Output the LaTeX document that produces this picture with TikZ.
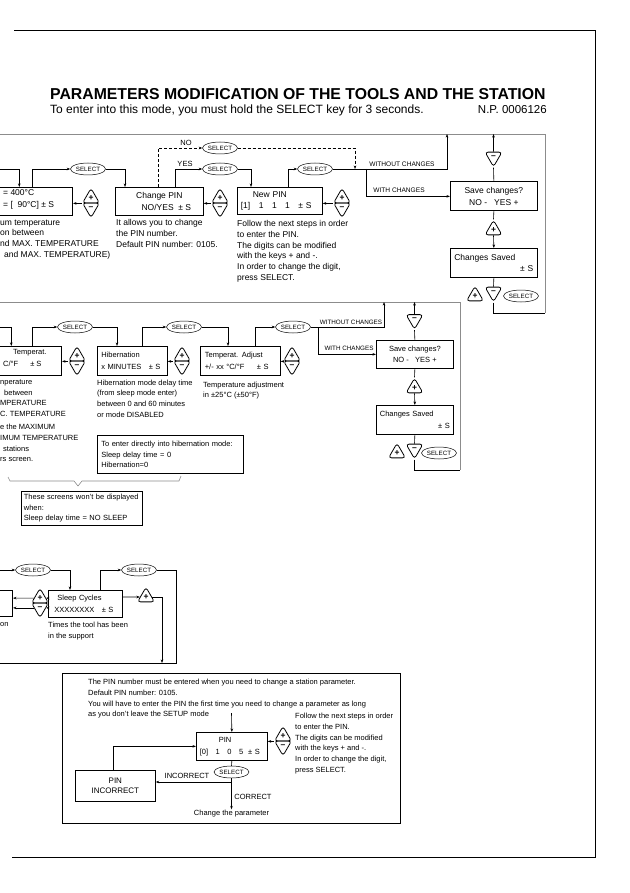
\documentclass[tikz,border=0pt]{standalone}
\usepackage{fontspec}
\setmainfont{Liberation Sans}
\usetikzlibrary{shapes.geometric,arrows.meta,positioning}
\hyphenpenalty=10000
\exhyphenpenalty=10000

\tikzset{
  box/.style={draw,line width=0.7pt,inner sep=3pt},
  txt/.style={inner sep=0pt,anchor=north west,align=left},
  big/.style={font=\fontsize{8.5}{10.7}\selectfont},
  sel/.style={ellipse,draw,line width=0.5pt,inner sep=0.3pt,minimum height=12pt,font=\fontsize{6.2}{7}\selectfont},
  kup/.style={regular polygon,regular polygon sides=3,draw,line width=0.8pt,rounded corners=3pt,minimum size=19.5pt,inner sep=0pt,font=\fontsize{8.5}{8}\bfseries\selectfont},
  kdown/.style={kup,shape border rotate=180},
  flow/.style={line width=0.6pt,-{Stealth[length=3.5pt,width=2.6pt]}},
  wire/.style={line width=0.6pt},
  back/.style={line width=0.8pt,black!45},
  lbl/.style={inner sep=0pt,font=\fontsize{6.6}{8}\selectfont}
}

\begin{document}
\begin{tikzpicture}[x=1pt,y=-1pt,font=\fontsize{7.5}{10.7}\selectfont]
  \useasboundingbox (0,0) rectangle (629,893);
  \clip (0,0) rectangle (629,893);

  % Page frame and heading
  \draw[line width=0.9pt] (14,30) -- (595,30) -- (595,857) -- (12,857);
  \node[anchor=west,inner sep=0pt,font=\fontsize{15.8}{18}\bfseries\selectfont] (title) at (50,94) {PARAMETERS MODIFICATION OF THE TOOLS AND THE STATION};
  \node[anchor=west,inner sep=0pt,font=\fontsize{12}{14}\selectfont] (intro) at (50,110) {To enter into this mode, you must hold the SELECT key for 3 seconds.};
  \node[anchor=east,inner sep=0pt,font=\fontsize{11.5}{14}\selectfont] (np) at (547,110) {N.P. 0006126};

  % ---- Tool screens
  \draw[back] (0,134) -- (545,134) -- (545,313);
  \node[box,anchor=north east,minimum width=110pt,minimum height=28pt] (tmax) at (73,187) {};
  \node[txt,big] (tmaxt) at (3,189.5) {= 400°C\\[1.2pt]= [\ \ 90°C]\ ± S};
  \node[box,big,anchor=north west,minimum width=88pt,minimum height=28pt,align=center] (cpin) at (115,187) {Change PIN\\[1pt]\hspace*{14pt}NO/YES\ \ ± S};
  \node[box,big,anchor=north west,minimum width=85pt,minimum height=27pt,align=left,text width=78pt] (npin) at (237,187) {\hspace*{12pt}New PIN\\[1pt][1]\ \ \ 1\ \ \ 1\ \ \ 1\ \ \ ± S};
  \node[box,big,anchor=north west,minimum width=87pt,minimum height=29pt,align=center] (save1) at (450,181.5) {Save changes?\\[1pt]NO -\ \ \ YES +};
  \node[box,big,anchor=north west,minimum width=87pt,minimum height=29pt,align=left,text width=79pt] (saved1) at (450,248) {Changes Saved\\[1pt]\hspace*{\fill}± S};

  \foreach \n/\x/\y in {ka/91/203,kb/220/203,kc/342/203}{
    \node[kup] (\n-p) at (\x,\y-4.9) {+};
    \node[kdown] (\n-m) at (\x,\y+4.9) {–};
  }
  \draw[flow] (ka-p.corner 2) -- (tmax.east |- ka-p.corner 2);
  \draw[flow] (kb-p.corner 2) -- (cpin.east |- kb-p.corner 2);
  \draw[flow] (kc-p.corner 2) -- (npin.east |- kc-p.corner 2);

  \node[sel] (s1a) at (88,169) {SELECT};
  \node[sel] (s1no) at (220,148) {SELECT};
  \node[sel] (s1yes) at (220,169) {SELECT};
  \node[sel] (s1c) at (315,169) {SELECT};
  \node[lbl,font=\fontsize{7.5}{8}\selectfont] (no) at (186,142.5) {NO};
  \node[lbl,font=\fontsize{7.5}{8}\selectfont] (yes) at (185,164) {YES};

  \coordinate (in1) at (0,169);
  \coordinate (j1) at (355,169);
  \coordinate (j2) at (366,169);
  \coordinate (top1) at (447,134);
  \coordinate (top2) at (493.5,134);
  \coordinate (rt1) at (545,313);
  \draw[flow] (in1) -| ([xshift=57pt]tmax.north west);
  \draw[flow] ([xshift=-41pt]tmax.north east) |- (s1a.west);
  \draw[flow] (s1a.east) -| ([xshift=10pt]cpin.north west);
  \draw[flow,dash pattern=on 3pt off 2pt] ([xshift=43pt]cpin.north west) |- (s1no.west);
  \draw[flow,dash pattern=on 3pt off 2pt] (s1no.east) -| (j1);
  \draw[flow] ([xshift=60pt]cpin.north west) |- (s1yes.west);
  \draw[flow] (s1yes.east) -| ([xshift=14pt]npin.north west);
  \draw[flow] ([xshift=51pt]npin.north west) |- (s1c.west);
  \draw[flow] (s1c.east) -| (top1);
  \draw[flow] (j2) |- (save1.west);
  \node[lbl] (wo1) at (402,164) {WITHOUT CHANGES};
  \node[lbl] (wi1) at (399,190) {WITH CHANGES};

  \node[kdown] (sa-m) at (493.5,157) {–};
  \node[kup] (sa-p) at (493.5,230) {+};
  \node[kdown] (sb-m) at (493.5,292) {–};
  \node[kup] (sb-p) at (475,296) {+};
  \node[sel] (sb-s) at (521,296) {SELECT};
  \draw[wire] (save1.north) -- (sa-m.south);
  \draw[flow] (sa-m.north) -- (top2);
  \draw[wire] (save1.south) -- (sa-p.north);
  \draw[flow] (sa-p.south) -- (saved1.north);
  \draw[wire] (saved1.south) -- (sb-m.north);
  \draw[wire] (sb-m.south) |- (rt1);

  \node[txt,big] (tmaxd) at (0,219.5) {um temperature\\on between\\nd MAX. TEMPERATURE\\\hspace*{4pt}and MAX. TEMPERATURE)};
  \node[txt,big] (cpind) at (116,219.5) {It allows you to change\\the PIN number.\\Default PIN number: 0105.};
  \node[txt,big] (npind) at (237,220.5) {Follow the next steps in order\\to enter the PIN.\\The digits can be modified\\with the keys + and -.\\In order to change the digit,\\press SELECT.};

  % ---- Station screens
  \coordinate (lf2) at (0,302);
  \coordinate (rt2) at (460,470);
  \draw[back] (lf2) -- (460,302) -- (rt2);
  \node[box,anchor=north east,minimum width=100pt,minimum height=29pt] (tsel) at (62,346) {};
  \node[txt] (tselt) at (3,349.5) {\hspace*{10pt}Temperat.\\[1pt]C/°F\hspace*{12pt}± S};
  \node[box,anchor=north west,minimum width=70pt,minimum height=29pt,align=left,text width=62pt] (hib) at (97,346) {Hibernation\\[1pt]x MINUTES\ \ \ ± S};
  \node[box,anchor=north west,minimum width=80pt,minimum height=29pt,align=left,text width=71pt] (tadj) at (200,346) {Temperat. Adjust\\[1pt]+/- xx °C/°F\ \ \ \ \ ± S};
  \node[box,anchor=north west,minimum width=77pt,minimum height=28pt,align=center] (save2) at (376,340) {Save changes?\\[1pt]NO -\ \ \ YES +};
  \node[box,anchor=north west,minimum width=77pt,minimum height=29pt,align=left,text width=70pt] (saved2) at (376,405) {Changes Saved\\[1pt]\hspace*{\fill}± S};

  \foreach \n/\x/\y in {kd/77/361,ke/182/361,kf/292/361}{
    \node[kup] (\n-p) at (\x,\y-4.9) {+};
    \node[kdown] (\n-m) at (\x,\y+4.9) {–};
  }
  \draw[flow] (kd-p.corner 2) -- (tsel.east |- kd-p.corner 2);
  \draw[flow] (ke-p.corner 2) -- (hib.east |- ke-p.corner 2);
  \draw[flow] (kf-p.corner 2) -- (tadj.east |- kf-p.corner 2);

  \node[sel] (s2a) at (75,327) {SELECT};
  \node[sel] (s2b) at (184,327) {SELECT};
  \node[sel] (s2c) at (293,327) {SELECT};
  \coordinate (in2) at (0,327);
  \coordinate (j3) at (318,327);
  \coordinate (top3) at (384,302);
  \coordinate (top4) at (414.5,302);
  \draw[flow] (in2) -| ([xshift=50pt]tsel.north west);
  \draw[flow] ([xshift=71pt]tsel.north west) |- (s2a.west);
  \draw[flow] (s2a.east) -| ([xshift=20pt]hib.north west);
  \draw[flow] ([xshift=45pt]hib.north west) |- (s2b.west);
  \draw[flow] (s2b.east) -| ([xshift=28pt]tadj.north west);
  \draw[flow] ([xshift=55pt]tadj.north west) |- (s2c.west);
  \draw[flow] (s2c.east) -| (top3);
  \draw[flow] (j3) |- (save2.west);
  \node[lbl,font=\fontsize{6.3}{8}\selectfont] (wo2) at (351,322) {WITHOUT CHANGES};
  \node[lbl,font=\fontsize{6.3}{8}\selectfont] (wi2) at (349,348) {WITH CHANGES};

  \node[kdown] (sc-m) at (414.5,319.5) {–};
  \node[kup] (sc-p) at (414.5,388) {+};
  \node[kdown] (sd-m) at (414.5,449) {–};
  \node[kup] (sd-p) at (397,453) {+};
  \node[sel] (sd-s) at (439,453) {SELECT};
  \draw[wire] (save2.north) -- (sc-m.south);
  \draw[flow] (sc-m.north) -- (top4);
  \draw[wire] (save2.south) -- (sc-p.north);
  \draw[flow] (sc-p.south) -- (saved2.north);
  \draw[wire] (saved2.south) -- (sd-m.north);
  \draw[wire] (sd-m.south) |- (rt2);

  \node[txt] (tseld) at (0,379.5) {nperature\\\hspace*{4pt}between\\MPERATURE\\C. TEMPERATURE\\[2.5pt]e the MAXIMUM\\IMUM TEMPERATURE\\\hspace*{3pt}stations\\rs screen.};
  \node[txt] (hibd) at (97,379.5) {Hibernation mode delay time\\(from sleep mode enter)\\between 0 and 60 minutes\\or mode DISABLED};
  \node[txt] (tadjd) at (203,381.5) {Temperature adjustment\\in ±25°C (±50°F)};
  \node[box,anchor=north west,minimum width=146pt,minimum height=38pt,text width=138pt,align=left] (direct) at (97,435) {To enter directly into hibernation mode:\\Sleep delay time = 0\\Hibernation=0};
  \draw[back,line width=0.6pt] (8,477) -- (10,481) -- (74,481) -- (78,486) -- (82,481) -- (179,481) -- (181,476);
  \node[box,anchor=north west,minimum width=121pt,minimum height=34pt,text width=116pt,inner sep=2.5pt,align=left] (nosleep) at (21,491) {These screens won't be displayed\\when:\\Sleep delay time = NO SLEEP};

  % ---- Sleep cycles
  \node[box,anchor=north east,minimum width=60pt,minimum height=26pt] (cnt) at (13,590) {};
  \node[box,anchor=north west,minimum width=74pt,minimum height=27pt,align=left,text width=62pt] (sc) at (48,590) {\hspace*{3pt}Sleep Cycles\\[1pt]XXXXXXXX\ \ \ ± S};
  \foreach \n/\x/\y in {kg/40/603}{
    \node[kup] (\n-p) at (\x,\y-4.9) {+};
    \node[kdown] (\n-m) at (\x,\y+4.9) {–};
  }
  \node[kup] (kh-p) at (146,597) {+};
  \node[sel] (s3a) at (33,570) {SELECT};
  \node[sel] (s3b) at (139,570) {SELECT};
  \coordinate (in3) at (0,570);
  \coordinate (dn1) at (176,663);
  \coordinate (dn2) at (162,663);
  \coordinate (out3) at (0,663);
  \draw[flow] (in3) -- (s3a.west);
  \draw[flow] (s3a.east) -| ([xshift=22pt]sc.north west);
  \draw[flow] ([xshift=52pt]sc.north west) |- (s3b.west);
  \draw[wire] (s3b.east) -| (dn1) -- (out3);
  \draw[flow] (sc.east |- kh-p) -- (kh-p.west);
  \draw[flow] (kh-p.east) -| (dn2);
  \draw[flow] (sc.west |- kg-p) -- (kg-p.east);
  \draw[flow] (kg-p.west) -- (cnt.east |- kg-p);
  \draw[flow] (sc.west |- kg-m) -- (kg-m.east);
  \draw[flow] (kg-m.west) -- (cnt.east |- kg-m);
  \node[txt] (scd) at (48,622) {Times the tool has been\\in the support};
  \node[txt] (cntd) at (0,622) {on};

  % ---- PIN entry
  \node[box,anchor=north west,minimum width=338pt,minimum height=150pt] (pinframe) at (62,673) {};
  \node[txt] (pininfo) at (88,679) {The PIN number must be entered when you need to change a station parameter.\\Default PIN number: 0105.\\You will have to enter the PIN the first time you need to change a parameter as long\\as you don't leave the SETUP mode};
  \node[box,anchor=north west,minimum width=71pt,minimum height=28pt,align=left,text width=64pt] (pin) at (196,732) {\hspace*{19pt}PIN\\[1pt][0]\ \ \ 1\ \ \ 0\ \ \ 5\ \ ± S};
  \foreach \n/\x/\y in {kp/283/741}{
    \node[kup] (\n-p) at (\x,\y-4.9) {+};
    \node[kdown] (\n-m) at (\x,\y+4.9) {–};
  }
  \draw[flow] (kp-p.corner 2) -- (pin.east |- kp-p.corner 2);
  \node[txt] (pinhelp) at (295,713) {Follow the next steps in order\\to enter the PIN.\\The digits can be modified\\with the keys + and -.\\In order to change the digit,\\press SELECT.};
  \coordinate (pintop) at (231.5,713);
  \draw[flow] (pintop) -- (pin.north);
  \node[sel] (s4) at (231.5,772) {SELECT};
  \node[inner sep=1pt] (change) at (231.5,814) {Change the parameter};
  \node[lbl,font=\fontsize{7.5}{8}\selectfont] (corr) at (253,797) {CORRECT};
  \node[box,anchor=north west,minimum width=80pt,minimum height=31pt,align=center,font=\fontsize{8}{10.5}\selectfont] (pinx) at (75,770) {PIN\\INCORRECT};
  \node[lbl,font=\fontsize{7.5}{8}\selectfont] (incorr) at (187,776) {INCORRECT};
  \coordinate (jx) at (231.5,782);
  \draw[wire] (pin.south) -- (s4.north);
  \draw[flow] (s4.south) -- (change.north);
  \draw[flow] (jx) -- (pinx.east |- jx);
  \draw[flow] ([xshift=38pt]pinx.north west) |- (pin.west);
\end{tikzpicture}
\end{document}
